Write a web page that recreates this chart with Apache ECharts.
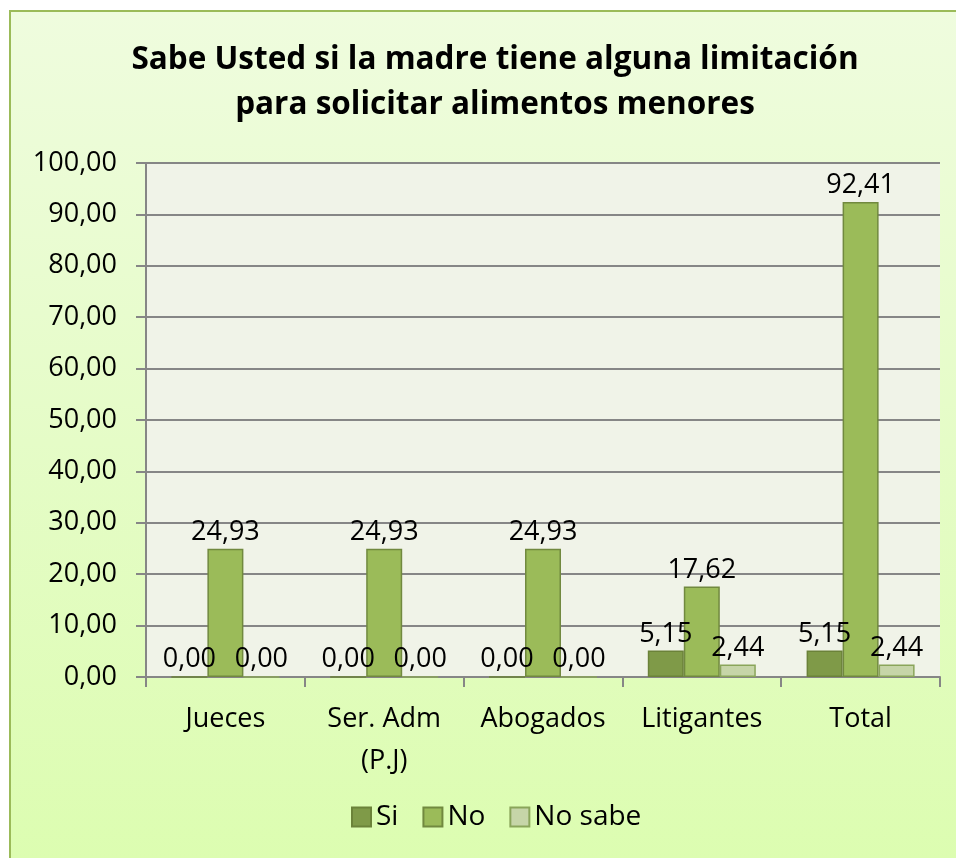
<!DOCTYPE html>
<html>
<head>
<meta charset="utf-8">
<script src="https://cdn.jsdelivr.net/npm/echarts@6/dist/echarts.min.js"></script>
<style>
  html, body { margin: 0; padding: 0; width: 956px; height: 858px; overflow: hidden; background: #ffffff; }
  #frame {
    position: absolute; left: 9px; top: 10px; width: 960px; height: 860px;
    border-left: 2px solid #9bbb59; border-top: 2px solid #9bbb59;
    background: linear-gradient(to bottom, #effcde 0%, #e5fcc7 50%, #dcfdb0 100%);
  }
  #chart { position: absolute; left: 0; top: 0; width: 956px; height: 858px; }
</style>
</head>
<body>
<div id="frame"></div>
<div id="chart"></div>
<script>
  // datos
  const categories = ['Jueces', 'Ser. Adm\n(P.J)', 'Abogados', 'Litigantes', 'Total']
  const siValues = [0.00, 0.00, 0.00, 5.15, 5.15]
  const noValues = [24.93, 24.93, 24.93, 17.62, 92.41]
  const noSabeValues = [0.00, 0.00, 0.00, 2.44, 2.44]

  const font = '"Open Sans", "Noto Sans", sans-serif'
  const fmt = (v) => v.toFixed(2).replace('.', ',')

  const chart = echarts.init(document.getElementById('chart'))

  const makeSeries = (name, data, color, border) => ({
    name: name,
    type: 'bar',
    data: data,
    barWidth: 36,
    barGap: '0%',
    itemStyle: { color: color, borderColor: border, borderWidth: 1.5 },
    label: {
      show: true,
      position: 'top',
      distance: 3,
      color: '#000',
      fontFamily: font,
      fontSize: 27,
      formatter: (p) => fmt(p.value)
    }
  })

  const options = {
    animation: false,
    title: {
      text: 'Sabe Usted si la madre tiene alguna limitación\npara solicitar alimentos menores',
      left: 490,
      textAlign: 'center',
      top: 33,
      textStyle: {
        fontFamily: font,
        fontSize: 31.5,
        fontWeight: 'bold',
        color: '#000',
        lineHeight: 45
      }
    },
    legend: {
      bottom: 22,
      left: 346,
      itemWidth: 19,
      itemHeight: 19,
      itemGap: 24,
      icon: 'rect',
      textStyle: { fontFamily: font, fontSize: 28, color: '#000' },
      data: ['Si', 'No', 'No sabe']
    },
    grid: {
      left: 146,
      right: 16,
      top: 163,
      bottom: 181,
      backgroundColor: '#f0f3e8',
      show: true,
      borderWidth: 0
    },
    xAxis: {
      type: 'category',
      data: categories,
      axisLine: { lineStyle: { color: '#868686', width: 2 } },
      axisTick: { show: true, length: 10, lineStyle: { color: '#868686', width: 2 } },
      axisLabel: {
        color: '#000',
        fontFamily: font,
        fontSize: 27,
        lineHeight: 42,
        margin: 21,
        interval: 0
      }
    },
    yAxis: {
      type: 'value',
      min: 0,
      max: 100,
      interval: 10,
      axisLine: { show: true, lineStyle: { color: '#868686', width: 2 } },
      axisTick: { show: true, length: 10, lineStyle: { color: '#868686', width: 2 } },
      splitLine: { lineStyle: { color: '#868686', width: 2 } },
      axisLabel: {
        color: '#000',
        fontFamily: font,
        fontSize: 27,
        margin: 29,
        formatter: (v) => fmt(v)
      }
    },
    series: [
      makeSeries('Si', siValues, '#7f9a48', '#6b8239'),
      makeSeries('No', noValues, '#9bbb59', '#71893f'),
      makeSeries('No sabe', noSabeValues, '#c6d5a8', '#8aa55a')
    ]
  }

  chart.setOption(options)
</script>
</body>
</html>
